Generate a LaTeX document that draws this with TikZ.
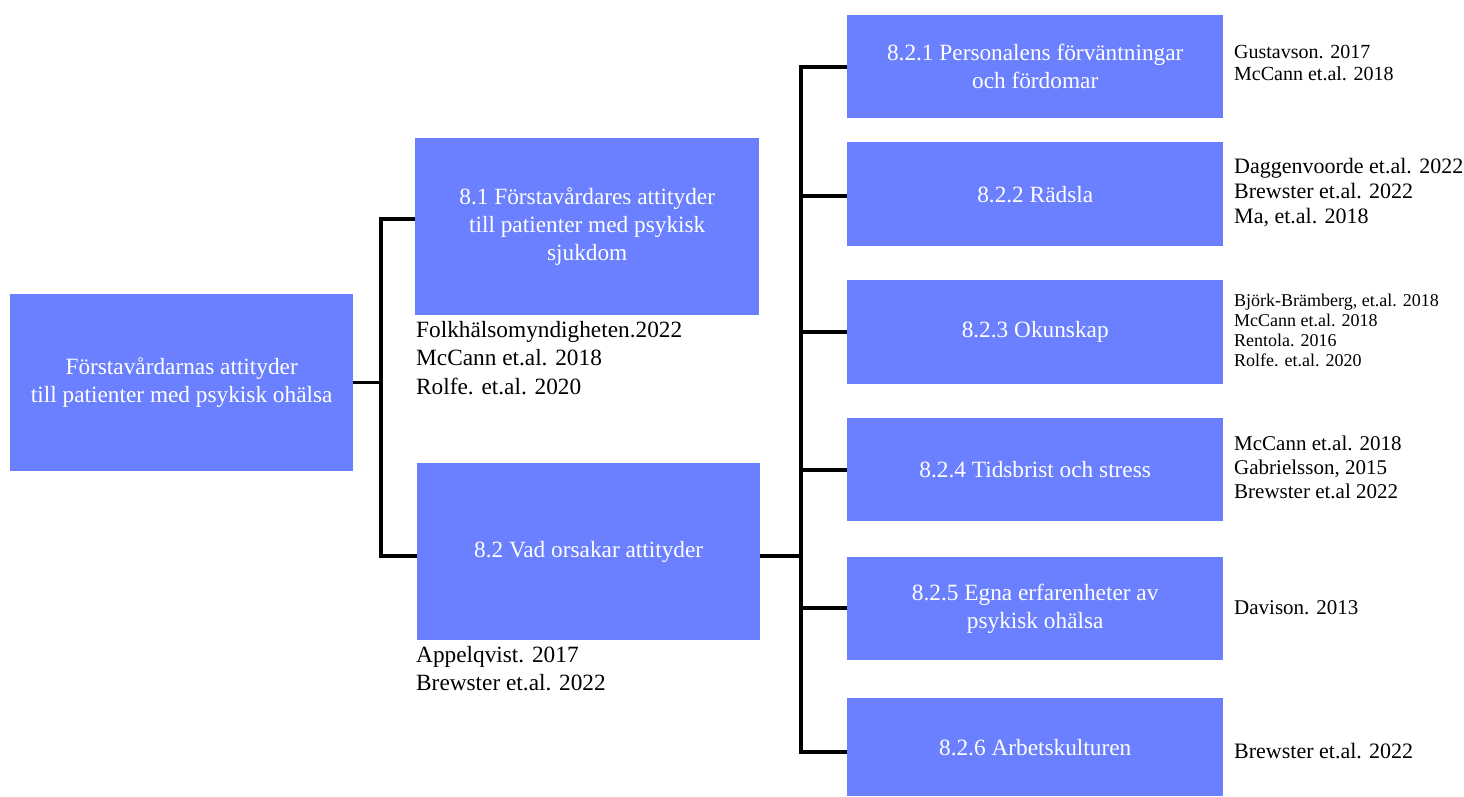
\documentclass[tikz,border=0pt]{standalone}
\usepackage{fontspec}
\setmainfont{Liberation Serif}
\definecolor{boxblue}{RGB}{107,128,255}
\begin{document}
\begin{tikzpicture}[x=1pt,y=-1pt,
  box/.style={rectangle, fill=boxblue, draw=none, text=white, align=center,
    inner sep=0pt, anchor=north west, font=\fontsize{23.3}{28}\selectfont},
  subbox/.style={box, minimum width=376},
  cite/.style={align=left, inner sep=0pt, text=black},
  conn/.style={draw=black, line width=3.2pt}]
\useasboundingbox (0,0) rectangle (1464,796);

% level 0 and 1
\node[box, minimum width=343, minimum height=177] (root) at (10,294)
  {Förstavårdarnas attityder\\till patienter med psykisk ohälsa};
\node[box, minimum width=344, minimum height=177] (b81) at (415,138)
  {8.1 Förstavårdares attityder\\till patienter med psykisk\\sjukdom};
\node[box, minimum width=343, minimum height=177] (b82) at (417,463)
  {8.2 Vad orsakar attityder};

\node[cite, anchor=north west, font=\fontsize{23.3}{28.5}\selectfont] (c81) at (416,321)
  {Folkhälsomyndigheten.2022\\McCann et.al. 2018\\Rolfe. et.al. 2020};
\node[cite, anchor=north west, font=\fontsize{23.3}{28}\selectfont] (c82) at (416,646)
  {Appelqvist. 2017\\Brewster et.al. 2022};

% level 2
\node[subbox, minimum height=103] (b821) at (847,15)
  {8.2.1 Personalens förväntningar\\och fördomar};
\node[subbox, minimum height=104] (b822) at (847,142) {8.2.2 Rädsla};
\node[subbox, minimum height=104] (b823) at (847,280) {8.2.3 Okunskap};
\node[subbox, minimum height=103] (b824) at (847,418) {8.2.4 Tidsbrist och stress};
\node[subbox, minimum height=103] (b825) at (847,557)
  {8.2.5 Egna erfarenheter av\\psykisk ohälsa};
\node[subbox, minimum height=98] (b826) at (847,698) {8.2.6 Arbetskulturen};

\node[cite, anchor=west, font=\fontsize{20}{22}\selectfont] (c821) at (1234,63)
  {Gustavson. 2017\\McCann et.al. 2018};
\node[cite, anchor=west, font=\fontsize{22}{25}\selectfont] (c822) at (1234,193)
  {Daggenvoorde et.al. 2022\\Brewster et.al. 2022\\Ma, et.al. 2018};
\node[cite, anchor=west, font=\fontsize{18}{20}\selectfont] (c823) at (1234,330)
  {Björk-Brämberg, et.al. 2018\\McCann et.al. 2018\\Rentola. 2016\\Rolfe. et.al. 2020};
\node[cite, anchor=west, font=\fontsize{21}{24}\selectfont] (c824) at (1234,467)
  {McCann et.al. 2018\\Gabrielsson, 2015\\Brewster et.al 2022};
\node[cite, anchor=west, font=\fontsize{21}{24}\selectfont] (c825) at (1234,608)
  {Davison. 2013};
\node[cite, anchor=west, font=\fontsize{22}{25}\selectfont] (c826) at (1234,751)
  {Brewster et.al. 2022};

% connectors level 0 -> 1
\coordinate (ta) at (381,219);
\coordinate (tb) at (381,556);
\draw[conn] (root.east) -- (root.east -| ta);
\draw[conn] (ta -| b81.west) -- (ta) -- (tb) -- (tb -| b82.west);

% connectors level 1 -> 2
\coordinate (s0) at (801,556);
\coordinate (s1) at (801,67);
\coordinate (s2) at (801,196);
\coordinate (s3) at (801,332);
\coordinate (s4) at (801,470);
\coordinate (s5) at (801,608);
\coordinate (s6) at (801,752);
\draw[conn] (s0 -| b82.east) -- (s0);
\draw[conn] (s1 -| b821.west) -- (s1) -- (s6) -- (s6 -| b826.west);
\draw[conn] (s2) -- (s2 -| b822.west);
\draw[conn] (s3) -- (s3 -| b823.west);
\draw[conn] (s4) -- (s4 -| b824.west);
\draw[conn] (s5) -- (s5 -| b825.west);
\end{tikzpicture}
\end{document}
